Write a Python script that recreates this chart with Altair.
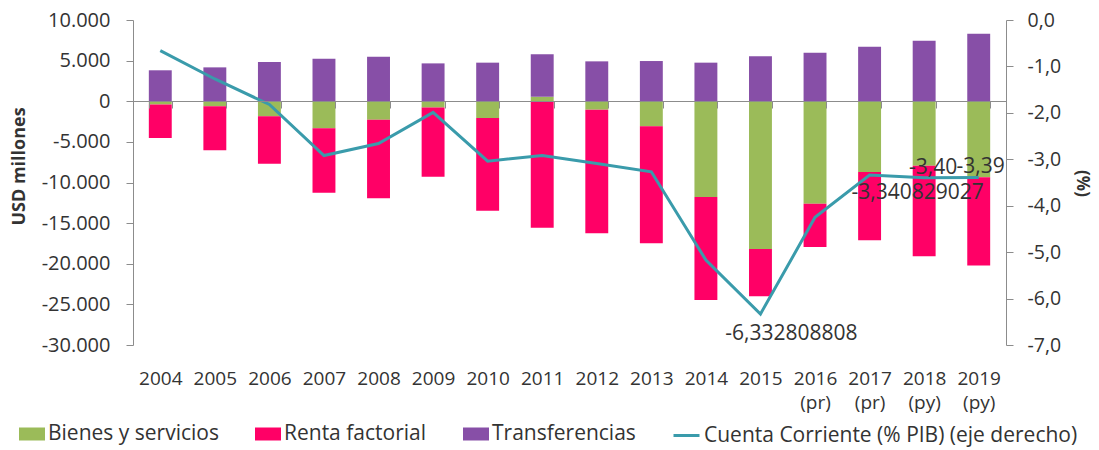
import altair as alt
import pandas as pd

years = ["2004", "2005", "2006", "2007", "2008", "2009", "2010", "2011",
         "2012", "2013", "2014", "2015", "2016 (pr)", "2017 (pr)", "2018 (py)", "2019 (py)"]
bienes = [-400, -620, -1860, -3330, -2270, -780, -2060, 550,
          -1040, -3090, -11790, -18180, -12610, -8710, -7930, -9360]
renta = [-4120, -5420, -5820, -7920, -9680, -8500, -11410, -15570,
         -15220, -14390, -12670, -5830, -5330, -8410, -11160, -10870]
transfer = [3810, 4170, 4830, 5240, 5490, 4660, 4750, 5220,
            4910, 4950, 4750, 5530, 5980, 6710, 7450, 8320]
cuenta = [-0.66, -1.27, -1.82, -2.92, -2.66, -1.99, -3.04, -2.92,
          -3.09, -3.27, -5.17, -6.332808808, -4.25, -3.340829027, -3.40, -3.39]
cuenta_labels = ["", "", "", "", "", "", "", "", "", "", "",
                 "-6,332808808", "", "-3,340829027", "-3,40", "-3,39"]

series = ["Bienes y servicios", "Renta factorial", "Transferencias"]
bar_colors = ["#9BBB59", "#FF0066", "#874FA7"]
line_name = "Cuenta Corriente (% PIB) (eje derecho)"
line_color = "#3A9BAB"
left_ticks = [-30000, -25000, -20000, -15000, -10000, -5000, 0, 5000, 10000]
right_ticks = [-7, -6, -5, -4, -3, -2, -1, 0]

FONT = "Open Sans"
TXT = "#333333"
GRAY = "#8C8C8C"

rows = []
for i, y in enumerate(years):
    rows.append({"year": y, "serie": series[0], "value": bienes[i], "orden": 0})
    rows.append({"year": y, "serie": series[1], "value": renta[i], "orden": 1})
    rows.append({"year": y, "serie": series[2], "value": transfer[i], "orden": 2})
bars_df = pd.DataFrame(rows)
line_df = pd.DataFrame({"year": years, "serie": line_name, "cuenta": cuenta,
                        "label": cuenta_labels})

bar_legend = alt.Legend(
    title=None, orient="none", legendX=-114, legendY=401, direction="horizontal",
    labelFont=FONT, labelFontSize=21, labelColor=TXT, labelOffset=3, labelLimit=600,
    columnPadding=36, symbolSize=676, padding=0,
    symbolType="M-1,-0.5H1V0.5H-1Z", symbolStrokeWidth=0, symbolOpacity=1,
)
line_legend = alt.Legend(
    title=None, orient="none", legendX=539, legendY=401, direction="horizontal",
    labelFont=FONT, labelFontSize=21, labelColor=TXT, labelOffset=3, labelLimit=600,
    symbolSize=676, padding=0, symbolType="stroke", symbolStrokeWidth=3,
)

x_enc = alt.X("year:N", sort=years, title=None,
              scale=alt.Scale(paddingInner=0.58, paddingOuter=0.29),
              axis=alt.Axis(labelExpr="split(datum.label, ' ')", labelAngle=0,
                            offset=-244, zindex=1, domainColor=GRAY, tickColor=GRAY,
                            tickBand="extent", tickSize=7, labelPadding=261,
                            labelLineHeight=24, labelFont=FONT, labelFontSize=19,
                            labelColor=TXT, grid=False))

left_scale = alt.Scale(domain=[-30000, 10000], nice=False, zero=False)
right_scale = alt.Scale(domain=[-7, 0], nice=False, zero=False)

right_axis = alt.Axis(orient="right", values=right_ticks, format=".1f", title="(%)",
                      titleFont=FONT, titleFontSize=17, titleFontWeight="bold",
                      titleColor=TXT, titleX=75, titleY=163, titleAngle=90,
                      titleAlign="center", titleBaseline="middle",
                      labelFont=FONT, labelFontSize=19.5, labelColor=TXT,
                      tickSize=7, labelPadding=14, domainColor=GRAY,
                      tickColor=GRAY, grid=False)

bars = alt.Chart(bars_df).mark_bar().encode(
    x=x_enc,
    y=alt.Y("value:Q", stack="zero", scale=left_scale, title="USD millones",
            axis=alt.Axis(values=left_ticks, format=",.0f",
                          titleFont=FONT, titleFontSize=18, titleFontWeight="bold",
                          titleColor=TXT, titleX=-114, titleY=146, titleAngle=270,
                          titleAlign="center", titleBaseline="middle",
                          labelFont=FONT, labelFontSize=20, labelColor=TXT,
                          tickSize=7, labelPadding=16, domainColor=GRAY,
                          tickColor=GRAY, grid=False)),
    color=alt.Color("serie:N", scale=alt.Scale(domain=series, range=bar_colors),
                    legend=bar_legend),
    order=alt.Order("orden:Q"),
)

line = alt.Chart(line_df).mark_line(strokeWidth=3).encode(
    x=alt.X("year:N", sort=years),
    y=alt.Y("cuenta:Q", scale=right_scale, title="(%)", axis=right_axis),
    stroke=alt.Stroke("serie:N", scale=alt.Scale(domain=[line_name], range=[line_color]),
                      legend=line_legend),
)


def label_layer(year, dx, dy):
    return alt.Chart(line_df).transform_filter(
        alt.datum.year == year
    ).mark_text(font=FONT, fontSize=21, color=TXT, dx=dx, dy=dy).encode(
        x=alt.X("year:N", sort=years),
        y=alt.Y("cuenta:Q", scale=right_scale, title="(%)", axis=right_axis),
        text="label:N",
    )


labels = alt.layer(
    label_layer(years[11], 31, 20),
    label_layer(years[13], 48, 18),
    label_layer(years[14], 9, -10),
    label_layer(years[15], 2, -10),
)

right = alt.layer(line, labels)

chart = alt.layer(bars, right).resolve_scale(y="independent").properties(
    width=873, height=325,
    autosize=alt.AutoSizeParams(type="none"),
    padding={"left": 125, "top": 12, "right": 85, "bottom": 102},
).configure(
    locale=alt.Locale(number=alt.NumberLocale(decimal=",", thousands=".", grouping=[3],
                                              currency=["", ""], minus="-")),
).configure_view(stroke=None)

chart.save("out.html", embed_options={"renderer": "svg", "actions": False})
